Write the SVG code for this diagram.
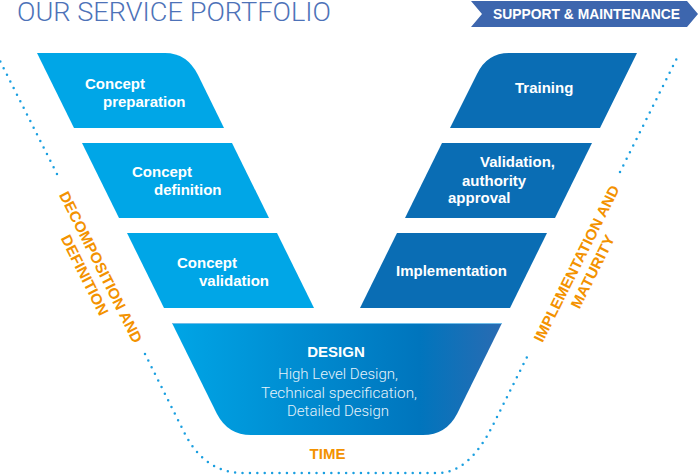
<svg xmlns="http://www.w3.org/2000/svg" width="698" height="475" viewBox="0 0 698 475">
<defs>
<linearGradient id="gDesign" x1="0" y1="0" x2="1" y2="0">
<stop offset="0" stop-color="#00a5e6"/>
<stop offset="0.75" stop-color="#0075bd"/>
<stop offset="1" stop-color="#2a6bb2"/>
</linearGradient>
<style>
.light{fill:#00a6e7}
.dark{fill:#0a6db4}
.lbl{font-family:"Liberation Sans",Arial,sans-serif;font-weight:bold;font-size:15px;fill:#ffffff}
.orange{font-family:"Liberation Sans",Arial,sans-serif;font-weight:bold;font-size:15px;fill:#f39200}
.thin{font-family:Roboto,"Liberation Sans",sans-serif;font-weight:300}
.dots{fill:none;stroke:#1a9fe0;stroke-width:2.5;stroke-linecap:round;stroke-dasharray:0 7.4}
</style>
</defs>
<rect width="698" height="475" fill="#ffffff"/>

<g id="title">
<text x="17" y="21" class="thin" font-size="26" fill="#4d72b8" textLength="314" lengthAdjust="spacingAndGlyphs">OUR SERVICE PORTFOLIO</text>
</g>

<g id="support-maintenance">
<polygon points="471,1 687,1 698,14 687,27 471,27 482,14" fill="#3d66ae"/>
<text x="586.5" y="19.3" text-anchor="middle" class="lbl" font-size="14" textLength="187" lengthAdjust="spacingAndGlyphs">SUPPORT &amp; MAINTENANCE</text>
</g>

<g id="timeline">
<path class="dots" d="M-3,55 L59,178"/>
<path class="dots" d="M145,354 L184,432 Q204.5,473 243,473 H438 Q469,473 493,425 L528,355"/>
<path class="dots" d="M620,172 L679,54"/>
</g>

<g id="concept-preparation">
<path class="light" d="M37,53 H165 Q187,53 198,75 L224,128 H74 Z"/>
<text class="lbl"><tspan x="85" y="89">Concept</tspan><tspan x="103" y="107">preparation</tspan></text>
</g>

<g id="concept-definition">
<polygon class="light" points="82,143 232,143 269,218 119,218"/>
<text class="lbl"><tspan x="132" y="177">Concept</tspan><tspan x="154" y="194.5">definition</tspan></text>
</g>

<g id="concept-validation">
<polygon class="light" points="127,233 277,233 314,308 164,308"/>
<text class="lbl"><tspan x="177" y="267.5">Concept</tspan><tspan x="199" y="285.5">validation</tspan></text>
</g>

<g id="training">
<path class="dark" d="M637,53 L600,128 H450 L477,74 Q487,53 509,53 Z"/>
<text class="lbl" x="515" y="93">Training</text>
</g>

<g id="validation-approval">
<polygon class="dark" points="442,143 592,143 555,218 405,218"/>
<text class="lbl"><tspan x="480" y="167">Validation,</tspan><tspan x="462" y="185.5">authority</tspan><tspan x="448" y="203">approval</tspan></text>
</g>

<g id="implementation">
<polygon class="dark" points="397,233 547,233 510,308 360,308"/>
<text class="lbl" x="396" y="276">Implementation</text>
</g>

<g id="design">
<path fill="url(#gDesign)" d="M172,323 H502 L457,414 Q446,435 423,435 H251 Q228,435 217,414 Z"/>
<line x1="172" y1="323.5" x2="502" y2="323.5" stroke="#6fbde9" stroke-width="1"/>
<text class="lbl" x="336" y="357" text-anchor="middle" font-size="17">DESIGN</text>
<g class="thin" font-size="15" fill="#e6f3fb" text-anchor="middle">
<text x="338" y="379" textLength="120" lengthAdjust="spacingAndGlyphs">High Level Design,</text>
<text x="339" y="397.5" textLength="156" lengthAdjust="spacingAndGlyphs">Technical specification,</text>
<text x="338" y="416" textLength="102" lengthAdjust="spacingAndGlyphs">Detailed Design</text>
</g>
</g>

<g id="label-decomposition" transform="translate(96.2,269.4) rotate(63.43)">
<text class="orange" x="0" y="0" text-anchor="middle" textLength="167" lengthAdjust="spacingAndGlyphs">DECOMPOSITION AND</text>
<text class="orange" x="0" y="18" text-anchor="middle" textLength="88" lengthAdjust="spacingAndGlyphs">DEFINITION</text>
</g>

<g id="label-implementation" transform="translate(581.3,265.9) rotate(-63.43)">
<text class="orange" x="0" y="0" text-anchor="middle" textLength="173" lengthAdjust="spacingAndGlyphs">IMPLEMENTATION AND</text>
<text class="orange" x="0" y="18" text-anchor="middle" textLength="80" lengthAdjust="spacingAndGlyphs">MATURITY</text>
</g>

<g id="label-time">
<text class="orange" x="327.5" y="459" text-anchor="middle" font-size="13">TIME</text>
</g>
</svg>
